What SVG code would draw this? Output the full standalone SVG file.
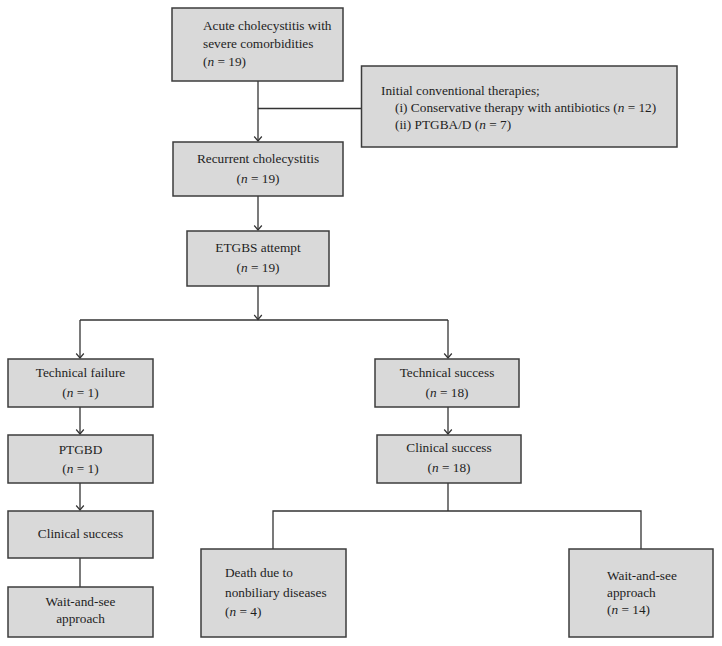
<svg xmlns="http://www.w3.org/2000/svg" width="722" height="646" viewBox="0 0 722 646">
<defs>
<style>
.box{fill:#d9d9d9;stroke:#3c3c3c;stroke-width:1.5}
.t{font-family:"Liberation Serif","Times New Roman",serif;font-size:13.3px;fill:#1e1e1e}
.c{text-anchor:middle}
.i{font-style:italic}
.ln{fill:none;stroke:#333;stroke-width:1.3}
</style>
<marker id="ah" markerUnits="userSpaceOnUse" markerWidth="12" markerHeight="12" viewBox="-6 -6 12 12" refX="0" refY="0" orient="auto">
<path d="M-4.5,-3.8 L0,0 L-4.5,3.8" fill="none" stroke="#333" stroke-width="1.2"/>
</marker>
</defs>
<rect width="722" height="646" fill="#fff"/>
<g id="connectors">
<line class="ln" x1="258" y1="81" x2="258" y2="141" marker-end="url(#ah)"/>
<line class="ln" x1="258" y1="108.5" x2="362" y2="108.5"/>
<line class="ln" x1="258" y1="196" x2="258" y2="230" marker-end="url(#ah)"/>
<line class="ln" x1="258" y1="286" x2="258" y2="319.5" marker-end="url(#ah)"/>
<line class="ln" x1="80" y1="320" x2="448" y2="320"/>
<line class="ln" x1="80" y1="320" x2="80" y2="358" marker-end="url(#ah)"/>
<line class="ln" x1="448" y1="320" x2="448" y2="358" marker-end="url(#ah)"/>
<line class="ln" x1="80" y1="407" x2="80" y2="434" marker-end="url(#ah)"/>
<line class="ln" x1="80" y1="483" x2="80" y2="510" marker-end="url(#ah)"/>
<line class="ln" x1="80" y1="558" x2="80" y2="587"/>
<line class="ln" x1="448" y1="407" x2="448" y2="434" marker-end="url(#ah)"/>
<polyline class="ln" points="448,483 448,511"/>
<polyline class="ln" points="273,549 273,511 641,511 641,549"/>
</g>
<g id="acute">
<rect class="box" x="172" y="8" width="171" height="73"/>
<text class="t" x="203" y="30">Acute cholecystitis with</text>
<text class="t" x="203" y="48">severe comorbidities</text>
<text class="t" x="203" y="66">(<tspan class="i">n</tspan> = 19)</text>
</g>
<g id="initial">
<rect class="box" x="361.5" y="66" width="315.5" height="81"/>
<text class="t" x="381" y="95">Initial conventional therapies;</text>
<text class="t" x="395" y="112">(i) Conservative therapy with antibiotics (<tspan class="i">n</tspan> = 12)</text>
<text class="t" x="395" y="129">(ii) PTGBA/D (<tspan class="i">n</tspan> = 7)</text>
</g>
<g id="recurrent">
<rect class="box" x="173" y="142" width="170" height="54"/>
<text class="t c" x="258" y="163">Recurrent cholecystitis</text>
<text class="t c" x="258" y="183">(<tspan class="i">n</tspan> = 19)</text>
</g>
<g id="etgbs">
<rect class="box" x="187" y="231" width="142" height="55"/>
<text class="t c" x="258" y="252">ETGBS attempt</text>
<text class="t c" x="258" y="272">(<tspan class="i">n</tspan> = 19)</text>
</g>
<g id="tech-failure">
<rect class="box" x="8" y="359" width="145" height="48"/>
<text class="t c" x="80.5" y="377">Technical failure</text>
<text class="t c" x="80.5" y="397">(<tspan class="i">n</tspan> = 1)</text>
</g>
<g id="ptgbd">
<rect class="box" x="8" y="435" width="145" height="48"/>
<text class="t c" x="80.5" y="454">PTGBD</text>
<text class="t c" x="80.5" y="473">(<tspan class="i">n</tspan> = 1)</text>
</g>
<g id="clinical-left">
<rect class="box" x="8" y="511" width="145" height="47"/>
<text class="t c" x="80.5" y="538">Clinical success</text>
</g>
<g id="wait-left">
<rect class="box" x="8" y="587" width="145" height="50"/>
<text class="t c" x="80.5" y="606">Wait-and-see</text>
<text class="t c" x="80.5" y="623">approach</text>
</g>
<g id="tech-success">
<rect class="box" x="375" y="359" width="144" height="48"/>
<text class="t c" x="447" y="377">Technical success</text>
<text class="t c" x="447" y="397">(<tspan class="i">n</tspan> = 18)</text>
</g>
<g id="clinical-right">
<rect class="box" x="377" y="435" width="144" height="48"/>
<text class="t c" x="449" y="452">Clinical success</text>
<text class="t c" x="449" y="472">(<tspan class="i">n</tspan> = 18)</text>
</g>
<g id="death">
<rect class="box" x="201" y="549" width="145" height="88"/>
<text class="t" x="225" y="577">Death due to</text>
<text class="t" x="225" y="597">nonbiliary diseases</text>
<text class="t" x="225" y="616">(<tspan class="i">n</tspan> = 4)</text>
</g>
<g id="wait-right">
<rect class="box" x="569" y="549" width="144" height="88"/>
<text class="t" x="607" y="580">Wait-and-see</text>
<text class="t" x="607" y="597">approach</text>
<text class="t" x="607" y="614">(<tspan class="i">n</tspan> = 14)</text>
</g>
</svg>
